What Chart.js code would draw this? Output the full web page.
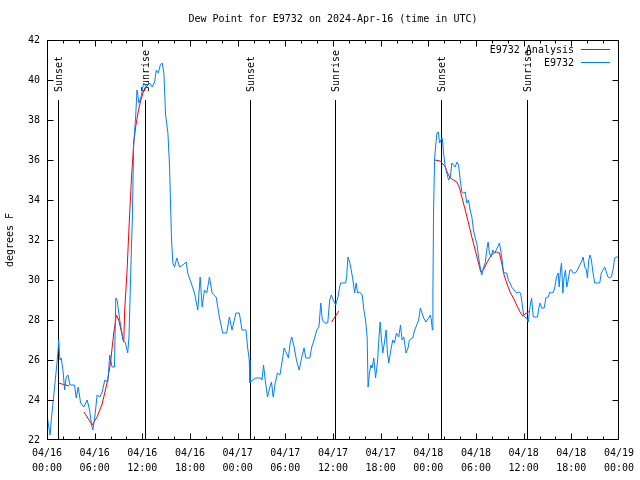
<!DOCTYPE html>
<html><head><meta charset="utf-8">
<script src="https://cdn.jsdelivr.net/npm/chart.js@4.4.1/dist/chart.umd.min.js"></script>
<style>html,body{margin:0;padding:0;background:#fff;} canvas{display:block;}</style>
</head><body>
<canvas id="c" width="640" height="480"></canvas>
<script>
const chartTitle = "Dew Point for E9732 on 2024-Apr-16 (time in UTC)";
const yAxisTitle = "degrees F";
const seriesNames = ["E9732 Analysis", "E9732"];
const xTickLabels = [["04/16","00:00"],["04/16","06:00"],["04/16","12:00"],["04/16","18:00"],
  ["04/17","00:00"],["04/17","06:00"],["04/17","12:00"],["04/17","18:00"],
  ["04/18","00:00"],["04/18","06:00"],["04/18","12:00"],["04/18","18:00"],["04/19","00:00"]];

// hours since 04/16 00:00 UTC
const obsHours = [0.00,0.13,0.38,0.54,0.88,1.17,1.38,1.47,1.63,1.79,2.01,2.22,2.42,2.63,2.89,3.47,3.68,3.93,4.23,4.64,5.06,5.36,5.61,5.77,6.02,6.31,6.65,6.94,7.28,7.65,7.90,8.19,8.49,8.66,8.82,9.16,9.57,9.87,10.16,10.32,10.62,10.75,10.91,11.16,11.33,11.58,11.83,12.17,12.51,12.92,13.26,13.55,13.76,14.01,14.26,14.51,14.71,14.93,15.22,15.43,15.55,15.68,15.84,16.06,16.34,16.68,17.10,17.52,17.72,18.15,18.57,18.98,19.28,19.53,19.82,20.11,20.45,20.79,21.29,21.70,22.12,22.62,22.96,23.29,23.58,23.80,24.21,24.55,25.05,25.25,25.46,25.55,25.88,26.30,26.93,27.06,27.26,27.47,27.76,28.06,28.26,28.47,28.73,29.01,29.32,29.57,29.85,30.14,30.39,30.61,30.82,31.11,31.40,31.74,32.08,32.36,32.58,33.08,33.33,33.62,33.96,34.24,34.46,34.66,35.00,35.34,35.59,35.79,36.04,36.34,36.63,36.84,36.97,37.59,37.72,37.88,38.10,38.30,38.51,38.72,38.92,39.10,39.35,39.68,39.89,40.10,40.30,40.42,40.60,40.77,40.93,41.14,41.36,41.61,41.77,41.94,42.11,42.27,42.52,42.69,42.86,43.03,43.28,43.53,43.74,43.99,44.28,44.50,44.70,44.91,45.20,45.45,45.62,46.04,46.29,46.54,46.79,47.00,47.20,47.42,47.71,48.04,48.26,48.38,48.51,48.58,48.67,48.80,48.96,49.08,49.26,49.42,49.59,49.76,49.92,50.14,50.34,50.55,50.77,50.97,51.18,51.39,51.59,51.81,52.02,52.22,52.43,52.65,52.85,53.06,53.27,53.48,53.69,53.90,54.10,54.32,54.53,54.73,54.94,55.16,55.36,55.53,55.70,55.91,56.11,56.32,56.54,56.74,56.95,57.11,57.29,57.45,57.66,57.87,58.08,58.29,58.49,58.79,59.12,59.42,59.62,59.80,59.96,60.09,60.38,60.59,60.80,61.00,61.22,61.75,61.93,62.09,62.25,62.59,62.80,63.09,63.31,63.51,63.76,63.93,64.14,64.35,64.48,64.64,64.77,64.94,65.10,65.27,65.44,65.61,65.82,66.02,66.23,66.52,66.77,67.07,67.28,67.49,67.70,67.90,68.03,68.20,68.36,68.53,68.74,68.95,69.58,69.78,69.99,70.21,70.41,70.62,70.84,71.04,71.25,71.46,71.75,72.00];
const obsValues = [23.3,22.9,22.25,23.0,24.35,25.5,26.4,27.0,26.0,26.1,25.5,24.5,25.15,25.25,24.75,24.75,24.1,24.65,23.85,23.65,24.0,23.5,22.75,22.5,23.15,24.25,24.15,24.4,25.0,24.9,26.25,25.65,25.65,29.1,29.0,28.0,27.0,26.85,26.35,27.15,31.5,33.15,36.8,38.15,39.5,38.85,39.15,39.85,39.65,39.85,39.65,39.9,40.5,40.35,40.75,40.85,40.35,38.25,37.35,35.65,33.85,32.0,30.85,30.65,31.1,30.65,30.75,30.9,30.35,29.85,29.35,28.5,30.15,28.65,29.5,29.35,30.15,29.35,29.15,28.15,27.35,27.35,28.15,27.5,28.0,28.35,28.35,27.5,27.5,26.65,26.0,24.85,25.0,25.1,25.1,25.0,25.75,25.0,24.15,24.65,24.9,24.15,24.85,25.35,25.25,25.85,26.6,26.35,26.1,26.85,27.15,26.65,26.0,25.5,26.15,26.6,26.1,26.1,26.65,27.0,27.5,27.65,28.85,28.0,27.85,27.85,29.0,29.25,29.0,28.75,29.15,29.65,29.85,29.85,30.15,31.15,30.9,30.5,30.0,29.35,29.85,29.35,29.4,29.25,28.5,28.0,27.15,24.65,25.35,25.75,25.6,26.1,25.1,25.9,27.0,27.9,27.0,26.35,27.0,27.5,26.35,25.85,26.5,27.0,26.85,27.35,27.15,27.75,27.0,27.15,26.35,26.6,27.0,27.1,27.5,27.75,28.0,28.6,28.35,28.1,27.9,28.1,28.25,28.0,27.5,29.5,33.65,36.1,36.85,37.35,37.4,36.85,37.0,37.1,36.35,35.65,35.35,35.0,35.15,35.85,35.75,35.65,35.9,35.75,35.0,34.4,34.35,34.4,33.85,34.0,33.5,33.15,32.5,32.1,31.85,31.15,30.65,30.25,30.6,30.85,31.5,31.9,31.35,31.15,31.5,31.35,31.5,31.65,31.85,31.5,31.0,30.4,30.35,30.35,30.0,29.85,29.65,29.5,29.35,29.4,29.35,28.85,28.35,28.15,28.1,27.9,28.65,29.1,28.15,28.15,28.65,28.85,28.6,28.6,29.1,29.15,29.4,29.35,29.4,29.65,30.15,30.35,29.65,30.5,30.85,29.35,30.15,30.5,29.65,30.0,30.5,30.5,30.35,30.35,30.5,30.75,30.9,31.15,30.65,30.5,30.1,31.0,31.25,31.0,30.35,29.85,29.85,30.35,30.5,30.65,30.4,30.15,30.1,30.15,30.5,31.1,31.15,31.15];

const anaHours = [1.47,1.88,2.38,2.80,3.5,4.64,5.14,5.68,6.31,6.94,7.56,7.99,8.40,8.74,9.03,9.32,9.66,9.78,10.07,10.32,10.62,10.91,11.16,11.45,11.75,12.08,12.42,12.71,20.0,35.82,36.75,45.0,48.80,49.51,49.84,50.14,50.43,50.77,51.18,51.59,51.93,52.22,52.65,53.06,53.48,53.90,54.32,54.60,54.94,55.36,55.78,56.20,56.61,56.95,57.24,57.54,57.87,58.29,58.71,59.12,59.55,59.88,60.17,60.80];
const anaValues = [24.85,24.8,24.75,24.7,null,23.4,23.1,22.75,23.15,23.8,24.85,25.85,27.35,28.25,28.0,27.5,26.9,28.5,30.4,32.6,35.0,36.8,37.65,38.35,38.9,39.35,39.65,39.75,null,27.9,28.45,null,36.0,35.95,35.8,35.65,35.35,35.1,35.0,34.9,34.6,34.15,33.5,32.85,32.15,31.5,30.85,30.4,30.5,30.85,31.15,31.35,31.4,31.35,30.85,30.25,29.85,29.4,29.1,28.75,28.4,28.2,28.3,28.45];

const eventNames = ["Sunset","Sunrise","Sunset","Sunrise","Sunset","Sunrise"];
const eventHours = [1.42,12.33,25.55,36.29,49.59,60.38];
const eventTop = 39;

const FONT = "'DejaVu Sans Mono', 'Liberation Mono', monospace";
const RED = '#ff0000', BLUE = '#0080ff';

const gnuPlugin = {
  id: 'gnu',
  beforeDraw(chart) {
    const c = chart.ctx; c.save(); c.fillStyle = '#fff'; c.fillRect(0,0,chart.width,chart.height); c.restore();
  },
  beforeDatasetsDraw(chart) {
    const c = chart.ctx, xs = chart.scales.x, ys = chart.scales.y;
    c.save();
    c.strokeStyle = '#000'; c.lineWidth = 1; c.fillStyle = '#000';
    c.font = '10px ' + FONT;
    eventHours.forEach((h, i) => {
      const px = Math.round(xs.getPixelForValue(h)) + 0.5;
      const top = ys.getPixelForValue(eventTop), bot = ys.getPixelForValue(22);
      c.beginPath(); c.moveTo(px, top); c.lineTo(px, bot); c.stroke();
      c.save(); c.translate(px + 1, top - 8); c.rotate(-Math.PI/2);
      c.textAlign = 'left'; c.textBaseline = 'middle'; c.fillText(eventNames[i], 0, 0);
      c.restore();
    });
    c.restore();
  },
  afterDatasetsDraw(chart) {
    const c = chart.ctx, a = chart.chartArea, xs = chart.scales.x, ys = chart.scales.y;
    c.save();
    c.strokeStyle = '#000'; c.lineWidth = 1;
    const L = Math.round(a.left)+0.5, R = Math.round(a.right)-0.5, T = Math.round(a.top)+0.5, B = Math.round(a.bottom)-0.5;
    const clamp = (v, lo, hi) => Math.min(hi, Math.max(lo, v));
    c.strokeRect(L, T, R-L, B-T);
    c.beginPath();
    for (let h = 2; h < 72; h += 2) {
      const px = clamp(Math.round(xs.getPixelForValue(h)) + 0.5, L, R);
      const len = (h % 6 === 0) ? 6 : 3;
      c.moveTo(px, B); c.lineTo(px, B - len);
      c.moveTo(px, T); c.lineTo(px, T + len);
    }
    for (let v = 24; v < 42; v += 2) {
      const py = clamp(Math.round(ys.getPixelForValue(v)) + 0.5, T, B);
      c.moveTo(L, py); c.lineTo(L + 6, py);
      c.moveTo(R, py); c.lineTo(R - 6, py);
    }
    c.stroke();
    // title
    c.fillStyle = '#000'; c.font = '10px ' + FONT;
    c.textAlign = 'center'; c.textBaseline = 'middle';
    c.fillText(chartTitle, (a.left + a.right)/2, 19);
    // y title
    c.save(); c.translate(10, (a.top + a.bottom)/2); c.rotate(-Math.PI/2);
    c.fillText(yAxisTitle, 0, 0); c.restore();
    // legend
    c.textAlign = 'right';
    const cols = [RED, BLUE], ly = [50, 63];
    seriesNames.forEach((n, i) => {
      c.fillStyle = '#000'; c.fillText(n, 574, ly[i]);
      c.strokeStyle = cols[i]; c.beginPath(); c.moveTo(581, ly[i] - 0.5); c.lineTo(610, ly[i] - 0.5); c.stroke();
    });
    c.restore();
  }
};

new Chart(document.getElementById('c'), {
  type: 'line',
  data: {
    datasets: [
      { label: seriesNames[1], data: obsHours.map((h,i)=>({x:h, y:obsValues[i]})), borderColor: BLUE, borderWidth: 1, pointRadius: 0, tension: 0, fill: false },
      { label: seriesNames[0], data: anaHours.map((h,i)=>({x:h, y:anaValues[i]})), borderColor: RED, borderWidth: 1, pointRadius: 0, tension: 0, fill: false, spanGaps: false }
    ]
  },
  options: {
    responsive: false, animation: false,
    layout: { padding: { left: 0, right: 19, top: 40, bottom: 0 } },
    plugins: { legend: { display: false }, title: { display: false }, tooltip: { enabled: false } },
    scales: {
      x: { type: 'linear', min: 0, max: 72, grid: { display: false, drawTicks: false }, border: { display: false },
        afterFit(s) { s.height = 40; },
        ticks: { stepSize: 6, autoSkip: false, maxRotation: 0, minRotation: 0, padding: 6, color: '#000',
          font: { family: FONT, size: 10, lineHeight: 1.5 },
          callback: (v) => xTickLabels[Math.round(v/6)] } },
      y: { min: 22, max: 42, grid: { display: false, drawTicks: false }, border: { display: false },
        afterFit(s) { s.width = 47; },
        ticks: { stepSize: 2, padding: 7, color: '#000', font: { family: FONT, size: 10 } } }
    }
  },
  plugins: [gnuPlugin]
});
</script>
</body></html>
